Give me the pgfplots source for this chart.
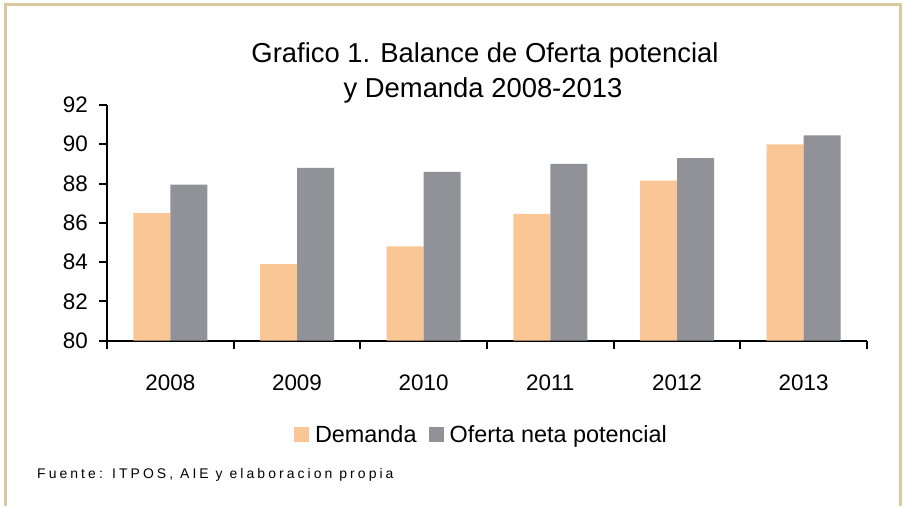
\documentclass[border=0pt]{standalone}
\usepackage{fontspec}
\setmainfont{Liberation Sans}
\usepackage{pgfplots}
\pgfplotsset{compat=1.18}
\definecolor{demanda}{RGB}{251,198,150}
\definecolor{oferta}{RGB}{145,146,151}
\definecolor{marco}{RGB}{216,201,158}
\begin{document}
\begin{tikzpicture}[x=1bp,y=1bp]
\path[fill=white] (0,0) rectangle (904,506);
\draw[marco, line width=3bp] (5,0) -- (5,501.5) -- (900.5,501.5) -- (900.5,0);
\node[anchor=base, inner sep=0pt, font=\fontsize{27.5}{32}\selectfont] at (485,443) {Grafico 1. Balance de Oferta potencial};
\node[anchor=base, inner sep=0pt, font=\fontsize{27.5}{32}\selectfont] at (483,408) {y Demanda 2008-2013};
\node[anchor=base west, inner sep=0pt, font=\fontsize{14}{16}\selectfont\addfontfeature{LetterSpace=22}] at (37,27) {Fuente: ITPOS, AIE y elaboracion propia};
\begin{axis}[
  at={(107bp,165.3bp)}, anchor=south west,
  scale only axis, width=760bp, height=235.7bp,
  xmin=-0.5, xmax=5.5, ymin=80, ymax=92,
  enlargelimits=false,
  axis lines*=left,
  axis line style={-, line width=1.8bp, black},
  ytick={80,82,...,92},
  xtick={-0.5,0.5,...,5.5},
  xticklabels={},
  extra x ticks={0,1,2,3,4,5},
  extra x tick labels={2008,2009,2010,2011,2012,2013},
  extra x tick style={major tick length=0pt, tick style={draw=none},
    xticklabel style={yshift=-34bp}},
  tick align=outside,
  major tick length=8bp,
  tick style={line width=2bp, black},
  /pgf/number format/assume math mode=true,
  tick label style={font=\fontsize{22.5}{27}\selectfont, inner sep=0pt},
  yticklabel style={xshift=-11bp},
  ybar=0pt, bar width=37bp,
  legend style={at={(0.4914,-0.40)}, anchor=center, draw=none, fill=none,
    legend columns=-1, column sep=0pt, nodes={inner sep=0pt},
    /tikz/every even column/.append style={column sep=12bp},
    font=\fontsize{23.5}{28}\selectfont},
  legend image code/.code={\fill[#1] (0bp,-7.5bp) rectangle (15bp,7.5bp);},
]
\addplot[fill=demanda, draw=none] coordinates {(0,86.5) (1,83.9) (2,84.8) (3,86.46) (4,88.15) (5,90.0)};
\addplot[fill=oferta, draw=none] coordinates {(0,87.95) (1,88.8) (2,88.6) (3,89.0) (4,89.3) (5,90.45)};
\legend{\hspace{6bp}Demanda, \hspace{6bp}Oferta neta potencial}
\end{axis}
\end{tikzpicture}
\end{document}
